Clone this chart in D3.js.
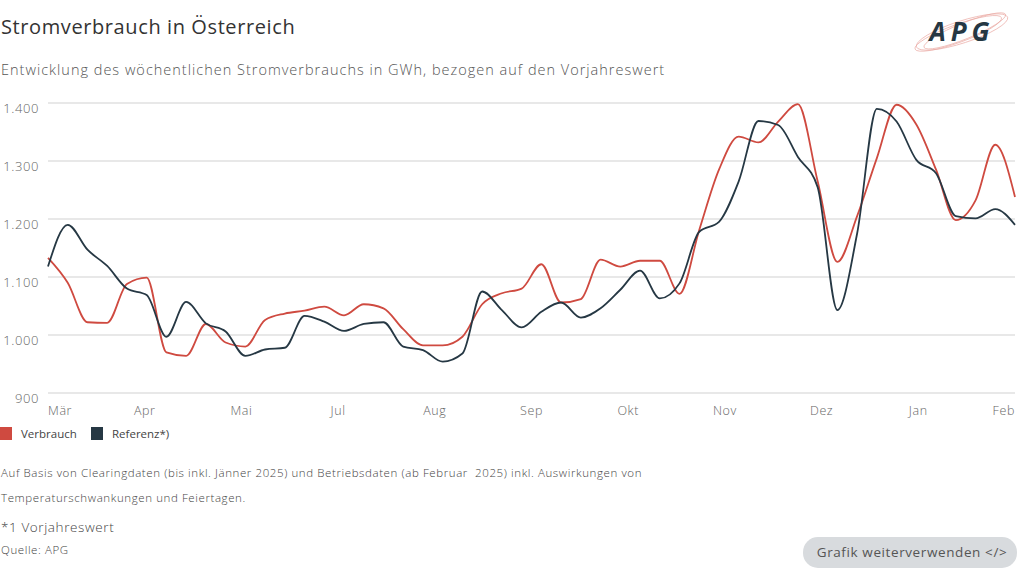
<!DOCTYPE html>
<html>
<head>
<meta charset="utf-8">
<script src="https://cdn.jsdelivr.net/npm/d3@7"></script>
<style>
  html, body { margin: 0; padding: 0; background: #fff; }
  svg { display: block; font-family: "Open Sans", "Noto Sans", sans-serif; letter-spacing: 0.6px; }
</style>
</head>
<body>
<svg id="chart" width="1024" height="576"></svg>
<script>
// wöchentlicher Stromverbrauch in GWh
const verbrauch = [1133, 1090, 1022, 1021, 1088, 1099, 970, 964, 1019, 987,
                   980, 1026, 1037, 1042, 1049, 1034, 1053, 1046, 1010, 982,
                   982, 997, 1053, 1072, 1080, 1122, 1056, 1062, 1130, 1118,
                   1128, 1128, 1071, 1181, 1285, 1342, 1332, 1368, 1398, 1265,
                   1126, 1205, 1305, 1397, 1363, 1285, 1198, 1232, 1328, 1238];
const referenz = [1118, 1190, 1147, 1119, 1080, 1069, 997, 1057, 1020, 1006,
                  964, 975, 978, 1033, 1023, 1007, 1019, 1022, 980, 974,
                  954, 968, 1075, 1043, 1013, 1040, 1056, 1030, 1046, 1078,
                  1111, 1063, 1089, 1178, 1195, 1265, 1369, 1362, 1307, 1255,
                  1043, 1175, 1390, 1368, 1302, 1279, 1205, 1201, 1217, 1190];
const monate = ["Mär", "Apr", "Mai", "Jul", "Aug", "Sep", "Okt", "Nov", "Dez", "Jan", "Feb"];
const yTicks = [900, 1000, 1100, 1200, 1300, 1400];
const serien = [
  { name: "Verbrauch", werte: verbrauch, farbe: "#cf4a40" },
  { name: "Referenz*)", werte: referenz, farbe: "#263844" }
];

const svg = d3.select("#chart");
const de = d3.formatLocale({ decimal: ",", thousands: ".", grouping: [3], currency: ["", "€"] });
const fmt = de.format(",");

const x = d3.scaleLinear().domain([0, verbrauch.length - 1]).range([48, 1015]);
const y = d3.scaleLinear().domain([900, 1400]).range([393, 103]);

// Titel
svg.append("text").attr("x", 1).attr("y", 34)
  .attr("font-size", 20).attr("fill", "#333")
  .text("Stromverbrauch in Österreich");
svg.append("text").attr("x", 1).attr("y", 75)
  .attr("font-size", 14.5).attr("fill", "#555").attr("font-weight", 300)
  .attr("letter-spacing", 1)
  .text("Entwicklung des wöchentlichen Stromverbrauchs in GWh, bezogen auf den Vorjahreswert");

// Logo
const logo = svg.append("g").attr("transform", "translate(962,32)");
[[-4, 46, 9, -20], [0, 48, 11, -18], [3, 44, 8, -22]].forEach(([dx, rx, ry, rot]) => {
  logo.append("ellipse").attr("cx", dx).attr("cy", 0).attr("rx", rx).attr("ry", ry)
    .attr("transform", `rotate(${rot})`)
    .attr("fill", "none").attr("stroke", "#eaa7a1").attr("stroke-width", 0.8).attr("opacity", 0.8);
});
logo.append("text").attr("x", 0).attr("y", 9).attr("text-anchor", "middle")
  .attr("font-size", 26).attr("font-weight", 700).attr("font-style", "italic")
  .attr("letter-spacing", 5).attr("fill", "#253743")
  .text("APG");

// Gitter und y-Achse
const yAxis = svg.append("g");
yAxis.selectAll("line").data(yTicks).join("line")
  .attr("x1", 48).attr("x2", 1015)
  .attr("y1", d => y(d)).attr("y2", d => y(d))
  .attr("stroke", "#e1e1e1").attr("stroke-width", 1.5);
yAxis.selectAll("text").data(yTicks).join("text")
  .attr("x", 39).attr("y", d => y(d) + 10)
  .attr("text-anchor", "end").attr("font-size", 13).attr("font-weight", 300).attr("fill", "#666")
  .attr("letter-spacing", 0.6)
  .text(d => fmt(d));

// x-Achse
const schritt = (verbrauch.length - 1) / (monate.length - 1);
svg.append("g").selectAll("text").data(monate).join("text")
  .attr("x", (d, i) => x(i * schritt))
  .attr("y", 415)
  .attr("text-anchor", (d, i) => i === 0 ? "start" : (i === monate.length - 1 ? "end" : "middle"))
  .attr("font-size", 12.5).attr("font-weight", 300).attr("fill", "#666")
  .text(d => d);

// Linien
const linie = d3.line().x((d, i) => x(i)).y(d => y(d)).curve(d3.curveMonotoneX);
svg.append("g").selectAll("path").data(serien).join("path")
  .attr("d", d => linie(d.werte))
  .attr("fill", "none").attr("stroke", d => d.farbe).attr("stroke-width", 1.8)
  .attr("stroke-linejoin", "round");

// Legende
const leg = svg.append("g").attr("transform", "translate(0,427)");
const legPos = [0, 91];
serien.forEach((s, i) => {
  leg.append("rect").attr("x", legPos[i]).attr("y", 0).attr("width", 12).attr("height", 13).attr("fill", s.farbe);
  leg.append("text").attr("x", legPos[i] + 21).attr("y", 11).attr("letter-spacing", 0)
    .attr("font-size", 11.5).attr("font-weight", 500).attr("fill", "#444").text(s.name);
});

// Fußnoten
const foot = [
  { t: "Auf Basis von Clearingdaten (bis inkl. Jänner 2025) und Betriebsdaten (ab Februar\u00a0 2025) inkl. Auswirkungen von", y: 477, s: 11.5 },
  { t: "Temperaturschwankungen und Feiertagen.", y: 502, s: 11.5 },
  { t: "*1 Vorjahreswert", y: 532, s: 13.5 },
  { t: "Quelle: APG", y: 554, s: 11.5 }
];
svg.append("g").selectAll("text").data(foot).join("text")
  .attr("x", 1).attr("y", d => d.y).attr("font-size", d => d.s)
  .attr("font-weight", 300).attr("fill", "#444").text(d => d.t);

// Button
svg.append("rect").attr("x", 803).attr("y", 537).attr("width", 214).attr("height", 31)
  .attr("rx", 15).attr("fill", "#d8dbde");
svg.append("text").attr("x", 912).attr("y", 557).attr("text-anchor", "middle")
  .attr("font-size", 13.5).attr("fill", "#555").text("Grafik weiterverwenden </>");
</script>
</body>
</html>
